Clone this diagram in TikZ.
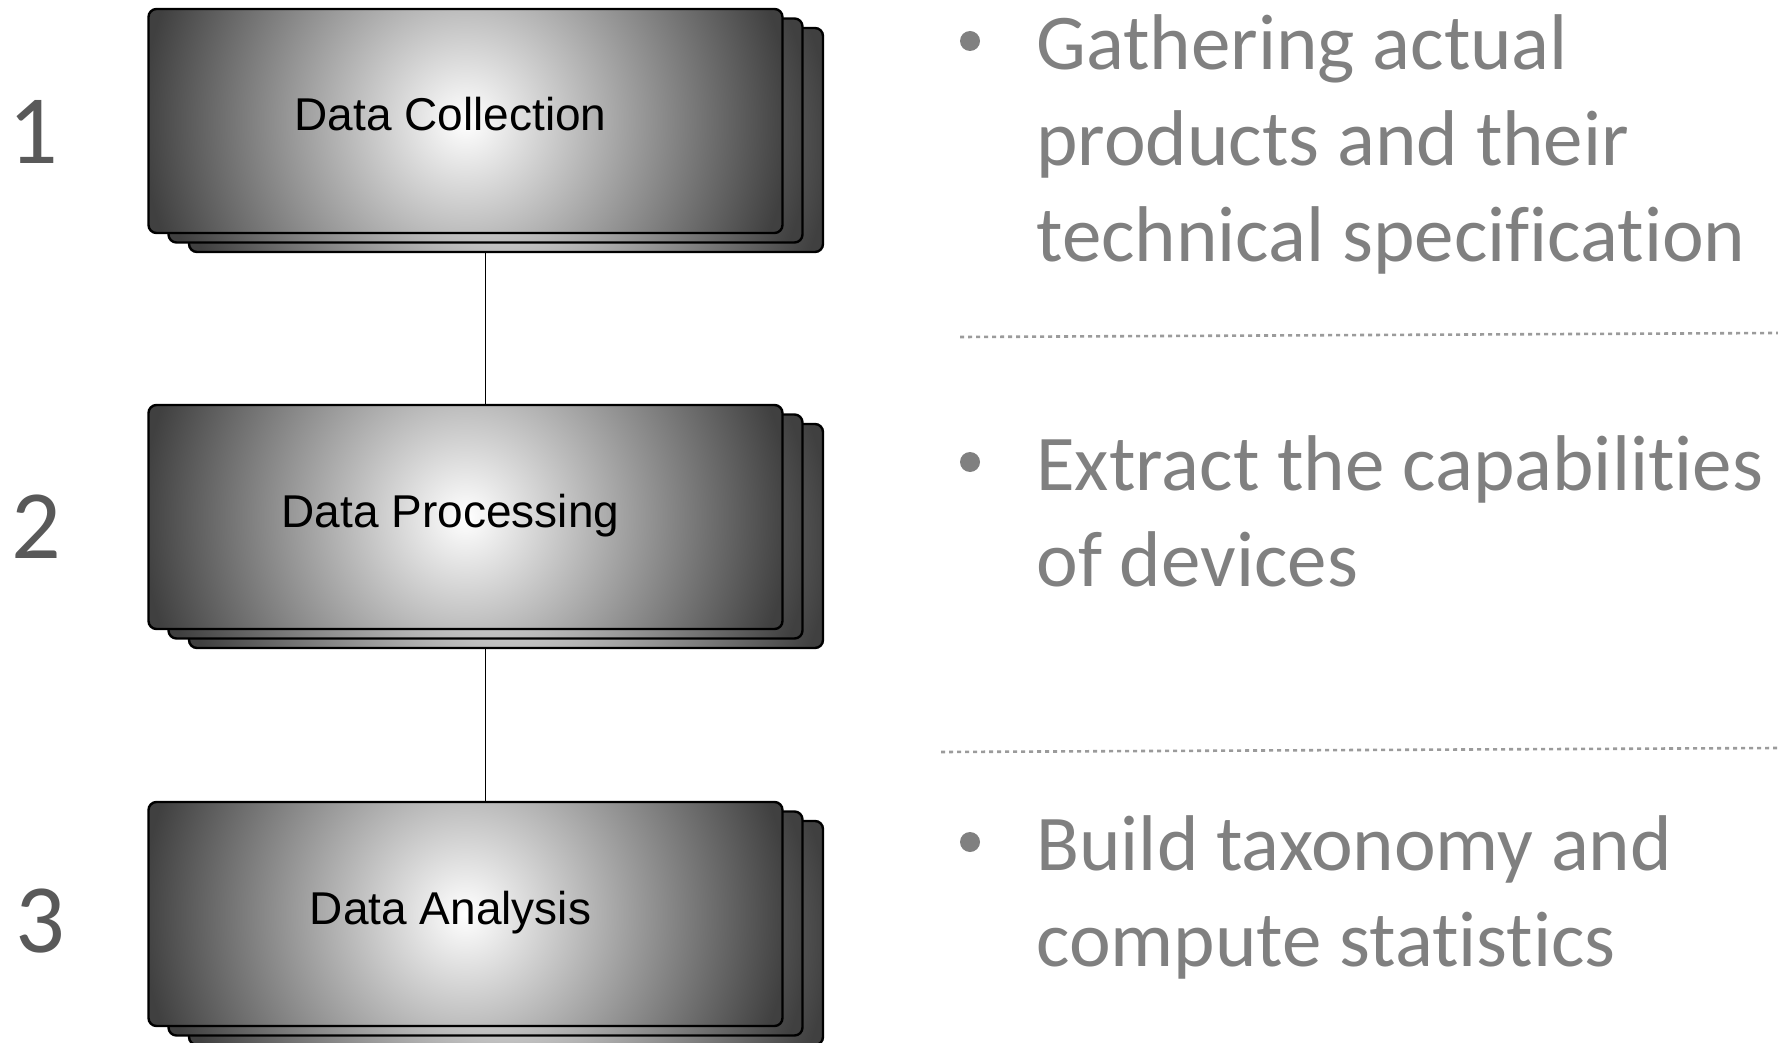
\documentclass[tikz,border=0pt]{standalone}
\usepackage{fontspec}
\setmainfont{Carlito}[Ligatures=NoCommon]
\newfontfamily\boxfont{Liberation Sans}
\usetikzlibrary{backgrounds}

\definecolor{stepgray}{RGB}{89,89,89}
\definecolor{notegray}{RGB}{128,128,128}
\definecolor{rulegray}{RGB}{155,155,155}

\tikzset{
  card/.style={draw, fill=black!75, line width=1.2pt, rounded corners=4pt, inner sep=0pt,
    minimum width=317pt, minimum height=112pt,
    path picture={\shade[inner color=white, outer color=black!75, sharp corners]
      (path picture bounding box.center) circle (162pt);}},
  cardtext/.style={font=\boxfont\fontsize{23}{28}\selectfont, anchor=base, inner sep=0pt},
  stepnum/.style={font=\fontsize{49}{58}\selectfont, text=stepgray, inner sep=0pt},
  notetext/.style={font=\fontsize{39.5}{48}\selectfont, text=notegray, align=left,
    anchor=base west, inner sep=0pt},
  bulletmark/.style={circle, fill=notegray, minimum size=10pt, inner sep=0pt},
  rulerline/.style={draw=rulegray, line width=1.3pt, dash pattern=on 2pt off 2pt}
}

\begin{document}
\begin{tikzpicture}[x=0.5pt,y=-0.5pt]
    \useasboundingbox (0,0) rectangle (1778,1043);

    % stacked cards
    \foreach \n/\y/\t in {coll/121/Data Collection, proc/517/Data Processing, anal/914/Data Analysis}{
        \node[card] (\n3) at (506,\y+19) {};
        \node[card] (\n2) at (485.5,\y+9.5) {};
        \node[card] (\n1) at (465.5,\y) {};
        \node[cardtext] (\n t) at ([shift={(-15,10)}]\n1.center) {\t};
    }

    % connectors behind the cards
    \begin{pgfonlayer}{background}
        \draw[line width=0.9pt] (coll2) -- (proc2);
        \draw[line width=0.9pt] (proc2) -- (anal2);
    \end{pgfonlayer}

    % step numbers
    \node[stepnum] (n1) at (33,131.5) {1};
    \node[stepnum] (n2) at (36,527) {2};
    \node[stepnum] (n3) at (40,921) {3};

    % notes (base = last line)
    \node[bulletmark] (d1) at (970,41) {};
    \node[notetext] (g1) at (1036,262) {Gathering actual\\products and their\\technical specification};
    \node[bulletmark] (d2) at (970,462) {};
    \node[notetext] (g2) at (1036,586) {Extract the capabilities\\of devices};
    \node[bulletmark] (d3) at (970,842) {};
    \node[notetext] (g3) at (1036,966) {Build taxonomy and\\compute statistics};

    % separators
    \draw[rulerline] (960,337) -- (1778,333);
    \draw[rulerline] (941,752) -- (1778,748);
\end{tikzpicture}
\end{document}
